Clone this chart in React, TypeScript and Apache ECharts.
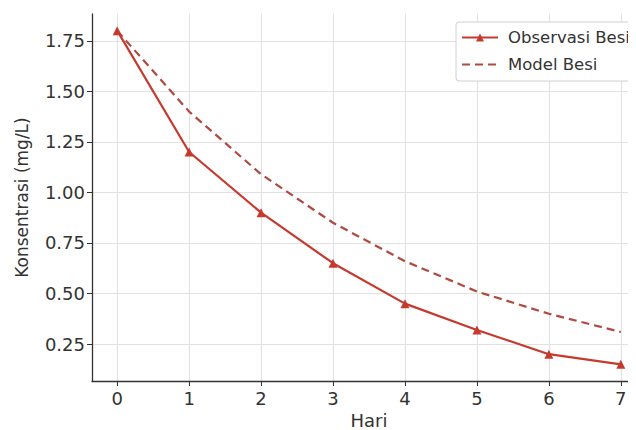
import React, { useEffect, useRef } from "react";
import * as echarts from "echarts";

const days = [0, 1, 2, 3, 4, 5, 6, 7];
const observed = [1.8, 1.2, 0.9, 0.65, 0.45, 0.32, 0.2, 0.15];
const model = [1.8, 1.4, 1.09, 0.85, 0.66, 0.51, 0.4, 0.31];
const yTicks = [0.25, 0.5, 0.75, 1.0, 1.25, 1.5, 1.75];

const FONT = "DejaVu Sans";
const RED = "#c63a2d";
const RED_DASH = "#b04a40";
const TXT = "#333";
const GRID = "#e2e2e2";

export default function App() {
  const ref = useRef<HTMLDivElement>(null);
  useEffect(() => {
    if (!ref.current) return;
    const chart = echarts.init(ref.current, null, { renderer: "svg" });
    chart.setOption({
      animation: false,
      textStyle: { fontFamily: FONT },
      grid: {
        left: 92,
        top: 14,
        width: 554,
        height: 367,
        containLabel: false,
        outerBoundsMode: "none",
      },
      legend: {
        left: 456,
        top: 22,
        orient: "vertical",
        itemWidth: 36,
        itemHeight: 10,
        itemGap: 10,
        padding: [7, 12, 8, 5],
        borderColor: "#d0d0d0",
        borderWidth: 1,
        borderRadius: 3,
        backgroundColor: "#fff",
        textStyle: { fontFamily: FONT, fontSize: 16.5, color: TXT, padding: [0, 0, 0, 5] },
        data: [
          { name: "Observasi Besi" },
          { name: "Model Besi", itemStyle: { opacity: 0 } },
        ],
      },
      xAxis: {
        type: "value",
        min: -0.35,
        max: 7.35,
        name: "Hari",
        nameLocation: "middle",
        nameGap: 30,
        nameTextStyle: { fontFamily: FONT, fontSize: 18, color: TXT },
        axisLine: { show: true, onZero: false, lineStyle: { color: TXT, width: 1.3 } },
        axisTick: { show: true, customValues: days, length: 5, lineStyle: { color: TXT } },
        axisLabel: { customValues: days, fontFamily: FONT, fontSize: 18, color: TXT, margin: 8 },
        splitLine: { show: true, lineStyle: { color: GRID, type: "solid", width: 1 } },
      },
      yAxis: {
        type: "value",
        min: 0.0675,
        max: 1.8825,
        name: "Konsentrasi (mg/L)",
        nameLocation: "middle",
        nameGap: 62,
        nameRotate: 90,
        nameTextStyle: { fontFamily: FONT, fontSize: 17, color: TXT },
        axisLine: { show: true, onZero: false, lineStyle: { color: TXT, width: 1.3 } },
        axisTick: { show: true, customValues: yTicks, length: 5, lineStyle: { color: TXT } },
        axisLabel: {
          customValues: yTicks,
          fontFamily: FONT,
          fontSize: 18,
          color: TXT,
          margin: 7,
          formatter: (v: number) => v.toFixed(2),
        },
        splitLine: { show: true, lineStyle: { color: GRID, type: "solid", width: 1 } },
      },
      series: [
        {
          name: "Observasi Besi",
          type: "line",
          data: days.map((d, i) => [d, observed[i]]),
          symbol: "triangle",
          symbolSize: 9,
          itemStyle: { color: RED },
          lineStyle: { color: RED, width: 2.2 },
          z: 3,
        },
        {
          name: "Model Besi",
          type: "line",
          data: days.map((d, i) => [d, model[i]]),
          symbol: "none",
          showSymbol: false,
          itemStyle: { color: RED_DASH },
          lineStyle: { color: RED_DASH, width: 2.2, type: [8, 5] },
          z: 2,
        },
      ],
    });
    return () => chart.dispose();
  }, []);
  return <div ref={ref} style={{ width: 636, height: 430, margin: "-8px -8px 0 -8px" }} />;
}
